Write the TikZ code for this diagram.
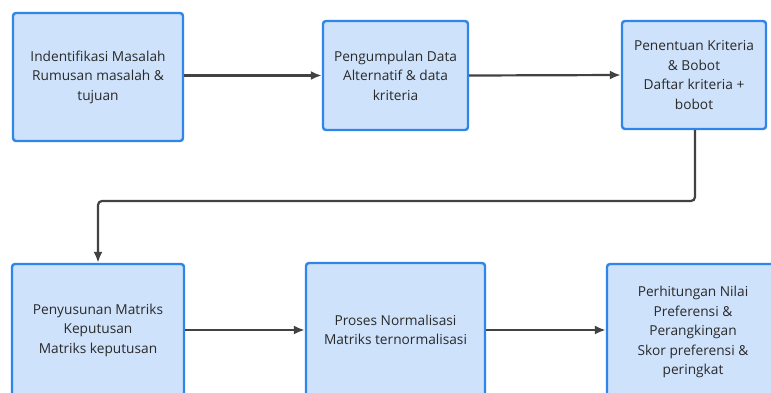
\documentclass[tikz,border=0pt]{standalone}
\usepackage{fontspec}
\setmainfont{Open Sans}
\usetikzlibrary{arrows.meta,positioning}
\definecolor{boxfill}{HTML}{CFE2FB}
\definecolor{boxline}{HTML}{2F86E8}
\definecolor{linkgray}{HTML}{424242}
\definecolor{txt}{HTML}{2A2A2A}
\begin{document}
\begin{tikzpicture}[x=1pt,y=-1pt,
  stepbox/.style={draw=boxline,fill=boxfill,line width=2.4pt,rounded corners=3pt,
    align=center,text=txt,font=\fontsize{13.7}{19.5}\selectfont,inner sep=0pt},
  link/.style={draw=linkgray,line width=2.2pt,rounded corners=4pt,
    -{Latex[length=11pt,width=9pt]}}]
\useasboundingbox (0,0) rectangle (771,392);
\clip (0,0) rectangle (771,392);
\fill[white] (0,0) rectangle (771,392);

\node[stepbox,minimum width=170pt,minimum height=128pt] (b1) at (98,77)
  {Indentifikasi Masalah\\Rumusan masalah \&\\tujuan};
\node[stepbox,minimum width=145pt,minimum height=109pt] (b2) at (395.5,75.5)
  {Pengumpulan Data\\Alternatif \& data\\kriteria};
\node[stepbox,minimum width=144pt,minimum height=108pt] (b3) at (694,75)
  {Penentuan Kriteria\\\& Bobot\\Daftar kriteria +\\bobot};
\node[stepbox,minimum width=172pt,minimum height=132pt] (b4) at (98,330)
  {Penyusunan Matriks\\Keputusan\\Matriks keputusan};
\node[stepbox,minimum width=179pt,minimum height=134pt] (b5) at (395.5,330)
  {Proses Normalisasi\\Matriks ternormalisasi};
\node[stepbox,minimum width=172pt,minimum height=136pt] (b6) at (693,332)
  {Perhitungan Nilai\\Preferensi \&\\Perangkingan\\Skor preferensi \&\\peringkat};

\coordinate (turnA) at (695,201);
\coordinate (turnB) at (98,201);

\draw[link] (b1.east |- b2.west) -- (b2.west);
\draw[link] (b2.east) -- (b3.west);
\draw[link] (b3.south -| turnA) -- (turnA) -- (turnB) -- (b4.north);
\draw[link] (b4.east) -- (b5.west);
\draw[link] (b5.east) -- (b6.west |- b5.east);
\end{tikzpicture}
\end{document}
